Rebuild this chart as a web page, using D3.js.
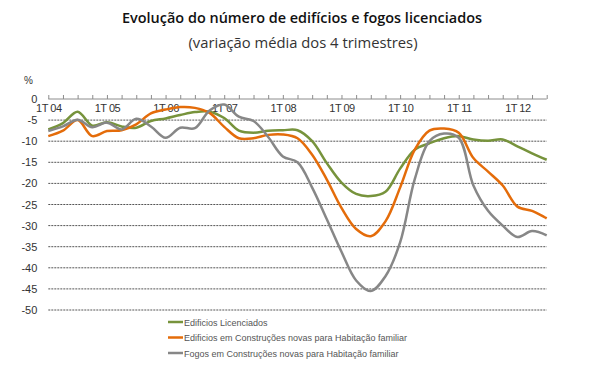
<!DOCTYPE html>
<html>
<head>
<meta charset="utf-8">
<script src="https://cdn.jsdelivr.net/npm/d3@7"></script>
<style>
  body { margin: 0; background: #fff; }
  svg { display: block; }
</style>
</head>
<body>
<svg id="chart" width="610" height="365"></svg>
<script>
const years = ["04", "05", "06", "07", "08", "09", "10", "11", "12"];
const quarters = years.flatMap(y => [1, 2, 3, 4].map(q => q + "T " + y)).slice(0, 35);

const edificiosLicenciados = [
  -7.2, -5.7, -3.0, -6.3, -5.5, -6.5, -6.8, -5.2, -4.6, -3.8, -3.1, -3.0,
  -4.5, -7.5, -8.0, -7.5, -7.4, -7.4, -10.0, -15.2, -19.8, -22.5, -23.0, -22.0,
  -16.5, -12.0, -10.5, -9.3, -8.8, -9.6, -9.9, -9.6, -11.2, -12.9, -14.4
];
const edificiosConstrucoes = [
  -8.8, -7.5, -5.0, -8.8, -7.6, -7.4, -6.0, -3.4, -2.5, -1.9, -2.1, -3.3,
  -6.6, -9.3, -9.3, -8.5, -8.4, -9.3, -13.2, -19.1, -25.8, -30.8, -32.5, -29.0,
  -21.0, -12.0, -7.5, -7.0, -8.0, -14.0, -17.2, -20.5, -25.5, -26.5, -28.3
];
const fogosConstrucoes = [
  -7.6, -6.5, -4.9, -6.7, -5.6, -7.2, -4.7, -6.5, -9.2, -6.8, -6.9, -2.7,
  -1.3, -4.2, -5.2, -9.0, -13.6, -15.0, -21.0, -28.5, -36.2, -43.0, -45.5, -42.0,
  -34.0, -19.0, -10.0, -8.2, -9.2, -20.5, -26.5, -30.0, -32.7, -31.3, -32.3
];
const yTicks = [0, -5, -10, -15, -20, -25, -30, -35, -40, -45, -50];
const seriesNames = [
  "Edificios Licenciados",
  "Edificios em Construções novas para Habitação familiar",
  "Fogos em Construções novas para Habitação familiar"
];
const seriesColors = ["#77933c", "#e46c0a", "#878787"];
const seriesValues = [edificiosLicenciados, edificiosConstrucoes, fogosConstrucoes];

const svg = d3.select("#chart");
const x = d3.scalePoint().domain(quarters).range([48.3, 546.7]);
const y = d3.scaleLinear().domain([-50, 0]).range([310, 99]);

// Title
svg.append("text")
  .attr("x", 302).attr("y", 23)
  .attr("text-anchor", "middle")
  .attr("font-family", "'Open Sans', 'DejaVu Sans', sans-serif")
  .attr("font-size", 15)
  .attr("font-weight", 600)
  .attr("fill", "#111")
  .attr("textLength", 360).attr("lengthAdjust", "spacingAndGlyphs")
  .text("Evolução do número de edifícios e fogos licenciados");
svg.append("text")
  .attr("x", 303).attr("y", 48)
  .attr("text-anchor", "middle")
  .attr("font-family", "'Open Sans', 'DejaVu Sans', sans-serif")
  .attr("font-size", 14)
  .attr("fill", "#333")
  .attr("textLength", 229).attr("lengthAdjust", "spacingAndGlyphs")
  .text("(variação média dos 4 trimestres)");

// % label
svg.append("text")
  .attr("x", 24).attr("y", 84)
  .attr("font-family", "Arial, 'Liberation Sans', sans-serif")
  .attr("font-size", 10)
  .attr("fill", "#333")
  .text("%");

// Gridlines + y labels
const yAxis = svg.append("g")
  .attr("transform", "translate(48.3,0)")
  .call(d3.axisLeft(y).tickValues(yTicks).tickSize(0).tickPadding(11)
    .tickFormat(d => String(d)));
yAxis.select(".domain").remove();
yAxis.selectAll("text")
  .attr("font-family", "Arial, 'Liberation Sans', sans-serif")
  .attr("font-size", 11)
  .attr("fill", "#333");

svg.append("g")
  .selectAll("line")
  .data(yTicks.filter(d => d !== 0))
  .join("line")
  .attr("x1", 48.3).attr("x2", 546.7)
  .attr("y1", d => y(d)).attr("y2", d => y(d))
  .attr("stroke", "#555")
  .attr("stroke-width", 1)
  .attr("stroke-dasharray", "2,1");

// X axis: ticks up at each quarter, labels below
const xTop = svg.append("g")
  .attr("transform", `translate(0,${y(0)})`)
  .call(d3.axisTop(x).tickSize(4).tickFormat(""));
xTop.select(".domain").attr("stroke", "#8c8c8c").attr("d", `M48.3,0H546.7`);
xTop.selectAll(".tick line").attr("stroke", "#8c8c8c");

const xBottom = svg.append("g")
  .attr("transform", `translate(0,${y(0)})`)
  .call(d3.axisBottom(x).tickValues(quarters.filter(q => q.startsWith("1T")))
    .tickSize(0).tickPadding(5));
xBottom.select(".domain").remove();
xBottom.selectAll("text")
  .attr("font-family", "Arial, 'Liberation Sans', sans-serif")
  .attr("font-size", 11)
  .attr("fill", "#333")
  .attr("letter-spacing", "-0.5px");

// Lines
const line = d3.line()
  .x((d, i) => x(quarters[i]))
  .y(d => y(d))
  .curve(d3.curveCatmullRom.alpha(0.5));

svg.append("g")
  .selectAll("path")
  .data(seriesValues)
  .join("path")
  .attr("d", d => line(d))
  .attr("fill", "none")
  .attr("stroke", (d, i) => seriesColors[i])
  .attr("stroke-width", 2.5)
  .attr("stroke-linejoin", "round");

// Legend
const legend = svg.append("g");
const rows = legend.selectAll("g")
  .data(seriesNames)
  .join("g")
  .attr("transform", (d, i) => `translate(168,${322 + i * 15.5})`);
rows.append("line")
  .attr("x1", 0).attr("x2", 15)
  .attr("y1", 0).attr("y2", 0)
  .attr("stroke", (d, i) => seriesColors[i])
  .attr("stroke-width", 2.5);
rows.append("text")
  .attr("x", 16).attr("y", 3.5)
  .attr("font-family", "Arial, 'Liberation Sans', sans-serif")
  .attr("font-size", 9)
  .attr("fill", "#555")
  .text(d => d);
</script>
</body>
</html>
